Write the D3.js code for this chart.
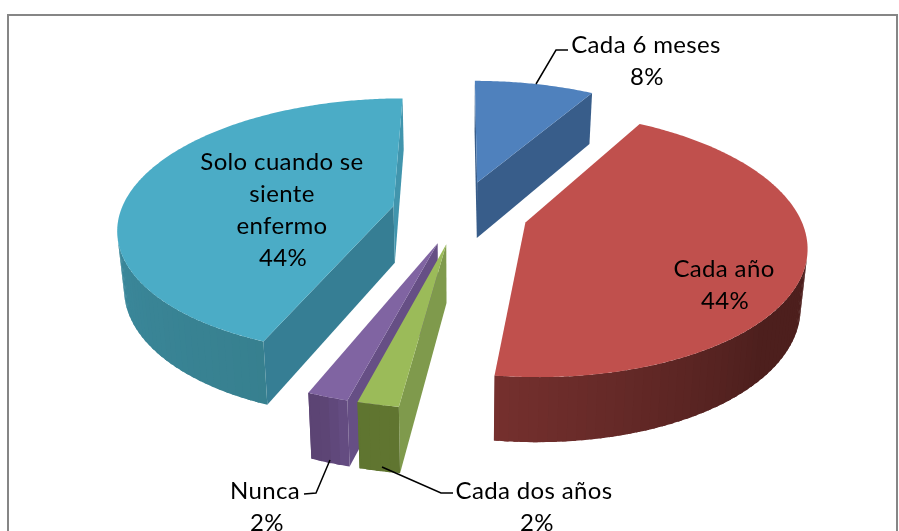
<!DOCTYPE html>
<html><head><meta charset="utf-8">
<script src="https://cdn.jsdelivr.net/npm/d3@7"></script>
<style>html,body{margin:0;padding:0;background:#fff;overflow:hidden}svg{display:block;filter:blur(0.4px)}text{font-family:Lato,"Open Sans",sans-serif;fill:#000;letter-spacing:0.35px}</style>
</head><body><div id="chart"></div>
<script>
const categories = ["Cada 6 meses","Cada año","Cada dos años","Nunca","Solo cuando se siente enfermo"];
const values = [8.4,43.7,2,2,43.9];
const percentLabels = ["8%","44%","2%","2%","44%"];
const topColors = ["#4F81BD","#C0504D","#9BBB59","#8064A2","#4BACC6"];
const radialColors = ["#385D8A","#8C3836","#7F9A4C","#664F85","#367E94"];
const strip = "#4195AD";
const outerStops = [["#3B5F8C","#3B5F8C","#3B5F8C"],["#4D1F1D","#4D1F1D","#75302E"],["#607530","#607530","#5F7530"],["#664E84","#5C4474","#5C4474"],["#37808F","#3E8EA5","#449AB2"]];
const W=899,H=531,cx=460,cy=212,A=273,B=126.5,persp=0.159,D=57,explode=0.25;
const svg=d3.select("#chart").append("svg").attr("width",W).attr("height",H);
svg.append("rect").attr("x",8).attr("y",15).attr("width",889).attr("height",H).attr("fill","#fff").attr("stroke","#868686").attr("stroke-width",2);
const arcs=d3.pie().sort(null).value(d=>d).startAngle(0).endAngle(2*Math.PI)(values);
function project(u,v,w){const s=1+persp*v;const x=cx+A*u/s,y=cy-B*v/s+w*D/Math.pow(s,0.7);return [cx+(x-cx)*(1-0.02*w),y];}
const line=d3.line();
function area(q){let a=0;for(let i=0;i<q.length;i++){const p=q[i],n=q[(i+1)%q.length];a+=p[0]*n[1]-n[0]*p[1];}return a;}
const g=svg.append("g");
const midAngle=d=>(d.startAngle+d.endAngle)/2;
const order=arcs.map((a,i)=>i).sort((a,b)=>Math.cos(midAngle(arcs[b]))-Math.cos(midAngle(arcs[a])));
order.forEach(i=>{
  const d=arcs[i],mid=midAngle(d);
  const ou=explode*Math.sin(mid),ov=explode*Math.cos(mid);
  const P=(t,r,w)=>project(ou+r*Math.sin(t),ov+r*Math.cos(t),w);
  const sg=g.append("g");
  const sf=d.startAngle,ef=d.endAngle;
  const startQ=[P(sf,0,0),P(sf,1,0),P(sf,1,1),P(sf,0,1)];
  const endQ=[P(ef,0,0),P(ef,1,0),P(ef,1,1),P(ef,0,1)];
  if(area(startQ)<0) sg.append("path").attr("d",line(startQ)+"Z").attr("fill",radialColors[i]);
  const endCol=i===4?strip:radialColors[i];
  if(area(endQ)>0) sg.append("path").attr("d",line(endQ)+"Z").attr("fill",endCol);
  const step=0.03;
  const steps=d3.range(0,Math.ceil((ef-sf)/step)+1).map(k=>Math.min(ef,sf+k*step));
  const col=d3.scaleLinear().domain([sf,sf+(ef-sf)*0.65,ef]).range(outerStops[i]);
  d3.pairs(steps).forEach(([a,b])=>{
    if(b<=a) return;
    const bo=Math.min(ef,b+step*0.5);
    const pts=d3.range(0,5).map(j=>a+(bo-a)*j/4);
    const q=pts.map(t=>P(t,1,0)).concat(pts.slice().reverse().map(t=>P(t,1,1)));
    if(area([P(a,1,0),P(b,1,0),P(b,1,1),P(a,1,1)])<0) sg.append("path").attr("d",line(q)+"Z").attr("fill",col((a+b)/2));
  });
  const fineSteps=d3.range(0,Math.ceil((ef-sf)/0.01)+1).map(k=>Math.min(ef,sf+k*0.01));
  const top=[P(sf,0,0)].concat(fineSteps.map(t=>P(t,1,0)));
  sg.append("path").attr("d",line(top)+"Z").attr("fill",topColors[i]);
});
const leaders=[[[536,84],[556,50],[568,50]],[[330,460],[316,493],[304,494]],[[382,467],[441,493],[453,493]]];
svg.selectAll("path.lead").data(leaders).join("path").attr("class","lead").attr("d",line).attr("fill","none").attr("stroke","#000").attr("stroke-width",1.5);
const labelLines=[
 {x:646,y:53,l:["Cada 6 meses"],p:0,px:647},
 {x:724,y:277,l:["Cada año"],p:1,px:725},
 {x:534,y:499,l:["Cada dos años"],p:2,px:537},
 {x:265,y:499,l:["Nunca"],p:3,px:267},
 {x:282,y:170,l:["Solo cuando se","siente","enfermo"],p:4,px:283}];
labelLines.forEach(o=>{
  o.l.forEach((t,k)=>svg.append("text").attr("x",o.x).attr("y",o.y+k*32).attr("text-anchor","middle").attr("font-size",24).text(t));
  svg.append("text").attr("x",o.px).attr("y",o.y+o.l.length*32).attr("text-anchor","middle").attr("font-size",24).text(percentLabels[o.p]);
});
</script></body></html>
